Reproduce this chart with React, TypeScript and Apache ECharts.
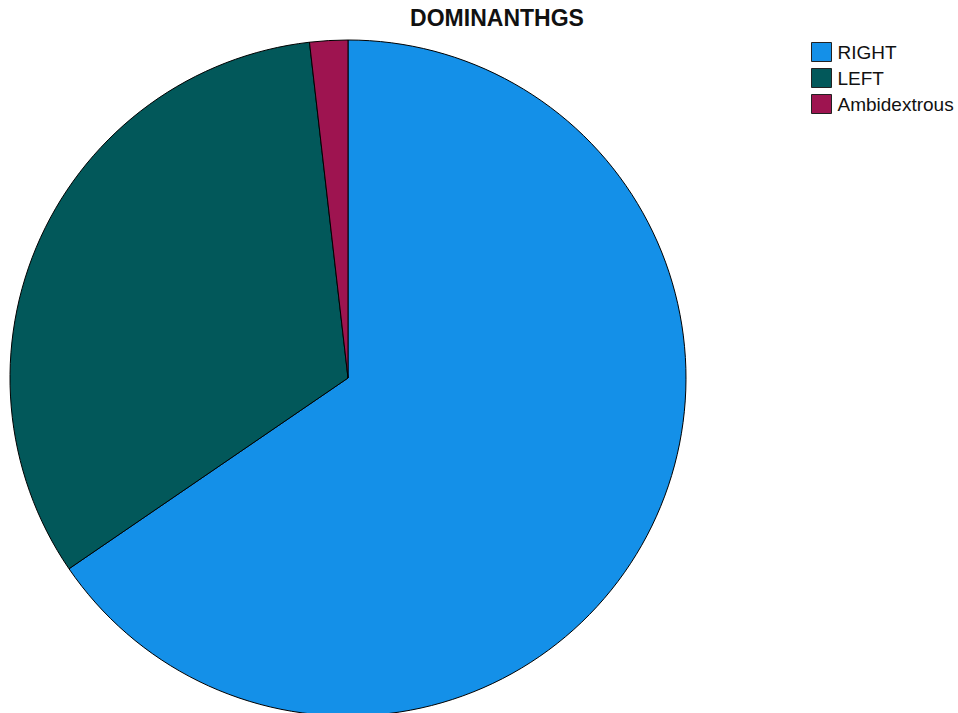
import React, { useEffect, useRef } from "react";
import * as echarts from "echarts";

const categories = ["RIGHT", "LEFT", "Ambidextrous"];
const counts = [36, 18, 1];
const colors = ["#1490e8", "#02585a", "#9e1450"];

export default function App() {
  const ref = useRef<HTMLDivElement>(null);
  useEffect(() => {
    document.body.style.margin = "0";
    const chart = echarts.init(ref.current!, null, { renderer: "svg" });
    chart.setOption({
      animation: false,
      backgroundColor: "#ffffff",
      title: {
        text: "DOMINANTHGS",
        left: 497,
        top: 6,
        padding: 0,
        textAlign: "center",
        textStyle: { fontFamily: "'Liberation Sans', Arial, sans-serif", fontSize: 23, fontWeight: "bold", color: "#111" },
      },
      legend: {
        orient: "vertical",
        left: 811,
        top: 42,
        padding: 0,
        itemWidth: 20,
        itemHeight: 19,
        itemGap: 6,
        icon: "rect",
        data: categories,
        itemStyle: { borderColor: "#222", borderWidth: 1 },
        textStyle: { fontFamily: "'Liberation Sans', Arial, sans-serif", fontSize: 19, color: "#111", padding: [0, 0, 0, 1] },
      },
      series: [
        {
          type: "pie",
          center: [348, 378],
          radius: 338,
          startAngle: 90,
          clockwise: true,
          label: { show: false },
          labelLine: { show: false },
          emphasis: { disabled: true },
          itemStyle: { borderColor: "#000", borderWidth: 1 },
          data: categories.map((name, i) => ({ name, value: counts[i], itemStyle: { color: colors[i] } })),
        },
      ],
    });
    return () => chart.dispose();
  }, []);
  return <div ref={ref} style={{ width: 958, height: 713 }} />;
}
